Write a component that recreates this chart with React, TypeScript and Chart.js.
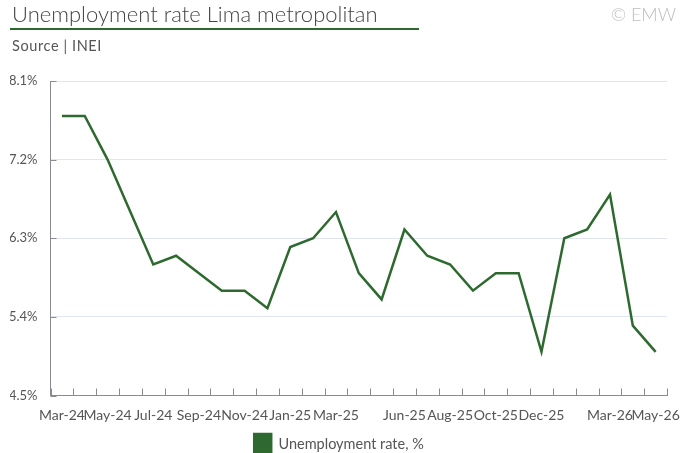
import React, { useEffect, useRef } from "react";
import { Chart, registerables } from "chart.js";

Chart.register(...registerables);

const months = [
  "Mar-24", "Apr-24", "May-24", "Jun-24", "Jul-24", "Aug-24", "Sep-24", "Oct-24", "Nov-24", "Dec-24",
  "Jan-25", "Feb-25", "Mar-25", "Apr-25", "May-25", "Jun-25", "Jul-25", "Aug-25", "Sep-25", "Oct-25", "Nov-25", "Dec-25",
  "Jan-26", "Feb-26", "Mar-26", "Apr-26", "May-26",
];

const shownLabels = [
  "Mar-24", "May-24", "Jul-24", "Sep-24", "Nov-24", "Jan-25", "Mar-25",
  "Jun-25", "Aug-25", "Oct-25", "Dec-25", "Mar-26", "May-26",
];

const unemployment = [
  7.7, 7.7, 7.2, 6.6, 6.0, 6.1, 5.9, 5.7, 5.7, 5.5,
  6.2, 6.3, 6.6, 5.9, 5.6, 6.4, 6.1, 6.0, 5.7, 5.9, 5.9, 5.0,
  6.3, 6.4, 6.8, 5.3, 5.0,
];

const yMin = 4.5;
const yMax = 8.1;
const yStep = 0.9;

const GREEN = "#2e6a2f";
const AXIS = "#8a8a94";
const FONT = "Lato, 'Open Sans', sans-serif";

const innerTicks = {
  id: "innerTicks",
  afterDraw(chart: any) {
    const { ctx, chartArea } = chart;
    const x = chart.scales.x;
    const y = chart.scales.y;
    ctx.save();
    ctx.strokeStyle = AXIS;
    ctx.lineWidth = 1;
    ctx.beginPath();
    for (let i = 0; i <= months.length; i++) {
      const px = Math.round(x.getPixelForValue(i - 0.5)) + 0.5;
      ctx.moveTo(px, chartArea.bottom);
      ctx.lineTo(px, chartArea.bottom - 7);
    }
    y.ticks.forEach((t: any) => {
      const py = Math.round(y.getPixelForValue(t.value)) + 0.5;
      ctx.moveTo(chartArea.left, py);
      ctx.lineTo(chartArea.left + 6, py);
    });
    ctx.stroke();
    ctx.restore();
  },
};

export default function App() {
  const canvasRef = useRef<HTMLCanvasElement | null>(null);

  useEffect(() => {
    if (!canvasRef.current) return;
    const chart = new Chart(canvasRef.current, {
      type: "line",
      data: {
        labels: months,
        datasets: [
          {
            label: "Unemployment rate, %",
            data: unemployment,
            borderColor: GREEN,
            backgroundColor: GREEN,
            borderWidth: 2.5,
            pointRadius: 0,
            tension: 0,
          },
        ],
      },
      options: {
        animation: false,
        responsive: false,
        maintainAspectRatio: false,
        layout: { padding: { top: 81, left: 10, right: 12, bottom: 0 } },
        plugins: {
          tooltip: { enabled: false },
          legend: {
            position: "bottom",
            labels: {
              boxWidth: 17,
              boxHeight: 20,
              color: "#555",
              padding: 8,
              font: { family: FONT, size: 14.5 },
            },
          },
        },
        scales: {
          x: {
            offset: true,
            afterFit: (scale: any) => {
              scale.height = 30.5;
            },
            grid: {
              display: true,
              offset: true,
              drawOnChartArea: false,
              drawTicks: true,
              tickLength: 12,
              tickColor: "rgba(0,0,0,0)",
              color: "rgba(0,0,0,0)",
            },
            border: { display: true, color: AXIS, width: 1 },
            ticks: {
              autoSkip: false,
              maxRotation: 0,
              minRotation: 0,
              padding: 0,
              color: "#555",
              font: { family: FONT, size: 14 },
              callback: function (this: any, value: any) {
                const lbl = months[value as number];
                return shownLabels.includes(lbl) ? lbl : "";
              },
            },
          },
          y: {
            min: yMin,
            max: yMax,
            afterFit: (scale: any) => {
              scale.width = 40.5;
            },
            grid: {
              color: "#e0e5ef",
              lineWidth: 1,
              drawTicks: false,
            },
            border: { display: true, color: AXIS, width: 1 },
            ticks: {
              stepSize: yStep,
              padding: 13,
              color: "#555",
              font: { family: FONT, size: 13 },
              callback: (v: any) => Number(v).toFixed(1) + "%",
            },
          },
        },
      },
      plugins: [innerTicks],
    });
    return () => chart.destroy();
  }, []);

  return (
    <div
      style={{
        position: "absolute",
        left: 0,
        top: 0,
        width: 680,
        height: 453,
        background: "#fff",
        fontFamily: FONT,
        overflow: "hidden",
      }}
    >
      <canvas
        ref={canvasRef}
        width={680}
        height={464}
        style={{ position: "absolute", left: 0, top: 0, width: 680, height: 464 }}
      />
      <div
        style={{
          position: "absolute",
          left: 12,
          top: 0,
          fontSize: 22,
          fontWeight: 300,
          color: "#444",
          whiteSpace: "nowrap",
          lineHeight: "27px",
        }}
      >
        Unemployment rate Lima metropolitan
      </div>
      <div
        style={{
          position: "absolute",
          left: 10,
          top: 28,
          width: 409,
          height: 2,
          background: GREEN,
        }}
      />
      <div
        style={{
          position: "absolute",
          left: 12,
          top: 37,
          fontSize: 14.5,
          letterSpacing: 0.6,
          color: "#555",
          whiteSpace: "nowrap",
          lineHeight: "18px",
        }}
      >
        Source | INEI
      </div>
      <div
        style={{
          position: "absolute",
          right: 4,
          top: 2,
          fontSize: 18,
          fontWeight: 300,
          color: "#bdbdbd",
          whiteSpace: "nowrap",
          lineHeight: "24px",
        }}
      >
        © EMW
      </div>
    </div>
  );
}
